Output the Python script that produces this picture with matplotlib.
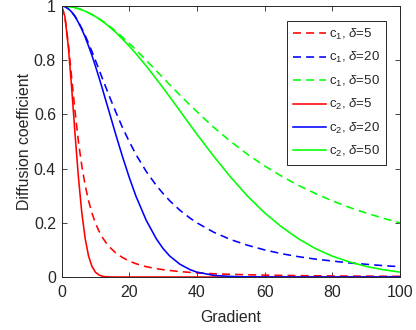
import matplotlib
matplotlib.use('Agg')
import matplotlib.pyplot as plt

plt.rcParams['font.family'] = ['Liberation Sans', 'DejaVu Sans']
plt.rcParams['mathtext.fontset'] = 'custom'
plt.rcParams['mathtext.rm'] = 'Liberation Sans'
plt.rcParams['mathtext.it'] = 'Liberation Sans:italic'
plt.rcParams['font.size'] = 11.4

# Gradient values (x axis)
gradiente = [0, 1, 2, 3, 4, 5, 6, 7, 8, 9, 10, 11, 12, 13, 14, 16, 18, 20, 22, 25,
             28, 30, 32, 35, 38, 40, 45, 50, 55, 60, 65, 70, 75, 80, 85, 90, 95, 100]

# c1 curves (dashed)
c1_d5 = [1, 0.962, 0.862, 0.735, 0.610, 0.5, 0.410, 0.338, 0.281, 0.236, 0.2, 0.171,
         0.148, 0.129, 0.113, 0.089, 0.072, 0.059, 0.049, 0.038, 0.031, 0.027, 0.024,
         0.020, 0.017, 0.015, 0.012, 0.0099, 0.0082, 0.0069, 0.0059, 0.0051, 0.0044,
         0.0039, 0.0034, 0.0031, 0.0028, 0.0025]
c1_d20 = [1, 0.998, 0.990, 0.978, 0.962, 0.941, 0.917, 0.891, 0.862, 0.832, 0.8, 0.768,
          0.735, 0.703, 0.671, 0.610, 0.552, 0.5, 0.452, 0.390, 0.338, 0.308, 0.281,
          0.246, 0.217, 0.2, 0.165, 0.138, 0.117, 0.1, 0.086, 0.075, 0.066, 0.059,
          0.052, 0.047, 0.042, 0.038]
c1_d50 = [1, 1.0, 0.998, 0.996, 0.994, 0.990, 0.986, 0.981, 0.975, 0.969, 0.962, 0.954,
          0.946, 0.937, 0.927, 0.907, 0.885, 0.862, 0.838, 0.8, 0.761, 0.735, 0.709,
          0.671, 0.634, 0.610, 0.552, 0.5, 0.452, 0.410, 0.372, 0.338, 0.308, 0.281,
          0.257, 0.236, 0.217, 0.2]

# c2 curves (solid)
c2_d5 = [1, 0.961, 0.852, 0.698, 0.527, 0.368, 0.237, 0.141, 0.077, 0.039, 0.018, 0.008,
         0.003, 0.001, 0.0004, 0, 0, 0, 0, 0, 0, 0, 0, 0, 0, 0, 0, 0, 0, 0, 0, 0, 0, 0,
         0, 0, 0, 0]
c2_d20 = [1, 0.998, 0.990, 0.978, 0.961, 0.939, 0.914, 0.885, 0.852, 0.817, 0.779, 0.739,
          0.698, 0.655, 0.613, 0.527, 0.445, 0.368, 0.298, 0.210, 0.141, 0.105, 0.077,
          0.047, 0.027, 0.018, 0.006, 0.002, 0.0005, 0.0001, 0, 0, 0, 0, 0, 0, 0, 0]
c2_d50 = [1, 1.0, 0.998, 0.996, 0.994, 0.990, 0.986, 0.981, 0.975, 0.968, 0.961, 0.953,
          0.944, 0.935, 0.925, 0.903, 0.878, 0.852, 0.824, 0.779, 0.731, 0.698, 0.664,
          0.613, 0.561, 0.527, 0.445, 0.368, 0.298, 0.237, 0.185, 0.141, 0.105, 0.077,
          0.056, 0.039, 0.027, 0.018]

fig = plt.figure(figsize=(4.16, 3.3), dpi=100)
ax = fig.add_axes([61.5 / 416, 1 - 277 / 330, 338.5 / 416, 271 / 330])

lw = 1.15
guion = (0, (5.0, 3.2))
ax.plot(gradiente, c1_d5, ls=guion, color='#ff0000', lw=lw, label=r'c$_1$, $\delta$=5')
ax.plot(gradiente, c1_d20, ls=guion, color='#0000ff', lw=lw, label=r'c$_1$, $\delta$=20')
ax.plot(gradiente, c1_d50, ls=guion, color='#00ff00', lw=lw, label=r'c$_1$, $\delta$=50')
ax.plot(gradiente, c2_d5, '-', color='#ff0000', lw=lw, label=r'c$_2$, $\delta$=5')
ax.plot(gradiente, c2_d20, '-', color='#0000ff', lw=lw, label=r'c$_2$, $\delta$=20')
ax.plot(gradiente, c2_d50, '-', color='#00ff00', lw=lw, label=r'c$_2$, $\delta$=50')

ax.set_xlim(0, 100)
ax.set_ylim(0, 1)
ax.set_xticks([0, 20, 40, 60, 80, 100])
ax.set_yticks([0, 0.2, 0.4, 0.6, 0.8, 1])
ax.set_yticklabels(['0', '0.2', '0.4', '0.6', '0.8', '1'])
ax.set_xlabel('Gradient', color='#262626', labelpad=7)
ax.set_ylabel('Diffusion coefficient', color='#262626', labelpad=1)
ax.tick_params(direction='in', top=True, right=True, colors='#262626', length=3.3,
               width=0.6)
ax.tick_params(axis='x', pad=6)
ax.tick_params(axis='y', pad=4)
for s in ax.spines.values():
    s.set_color('#262626')
    s.set_linewidth(0.7)

leg = ax.legend(loc='upper right', bbox_to_anchor=(386 / 416, 1 - 21 / 330),
                bbox_transform=fig.transFigure, borderaxespad=0, fontsize=9.5,
                handlelength=2.5, labelspacing=0.63, borderpad=0.45,
                fancybox=False, handletextpad=0.25)
leg.get_frame().set_edgecolor('#262626')
leg.get_frame().set_linewidth(0.7)
leg.get_frame().set_alpha(1)
for t in leg.get_texts():
    t.set_color('#262626')

fig.savefig('out.png', dpi=100)
